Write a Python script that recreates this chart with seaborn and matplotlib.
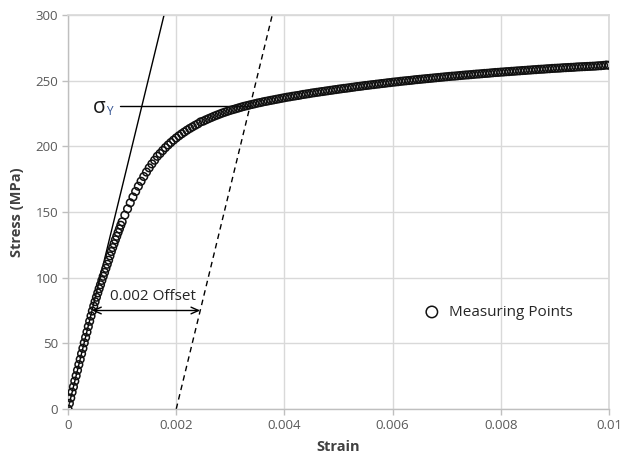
import matplotlib
matplotlib.use("Agg")
import matplotlib.pyplot as plt
import pandas as pd
import seaborn as sns

# Tensile test record: strain in micro-strain, engineering stress in MPa
strain_ue = [
    0, 25, 50, 75, 100, 125, 150, 175, 200, 225,
    250, 275, 300, 325, 350, 375, 400, 425, 450, 475,
    500, 525, 550, 575, 600, 625, 650, 675, 700, 725,
    750, 775, 800, 825, 850, 875, 900, 925, 950, 975,
    1000, 1050, 1100, 1150, 1200, 1250, 1300, 1350, 1400, 1450,
    1500, 1550, 1600, 1650, 1700, 1750, 1800, 1850, 1900, 1950,
    2000, 2050, 2100, 2150, 2200, 2250, 2300, 2350, 2400, 2450,
    2500, 2550, 2600, 2650, 2700, 2750, 2800, 2850, 2900, 2950,
    3000, 3050, 3100, 3150, 3200, 3250, 3300, 3350, 3400, 3450,
    3500, 3550, 3600, 3650, 3700, 3750, 3800, 3850, 3900, 3950,
    4000, 4050, 4100, 4150, 4200, 4250, 4300, 4350, 4400, 4450,
    4500, 4550, 4600, 4650, 4700, 4750, 4800, 4850, 4900, 4950,
    5000, 5050, 5100, 5150, 5200, 5250, 5300, 5350, 5400, 5450,
    5500, 5550, 5600, 5650, 5700, 5750, 5800, 5850, 5900, 5950,
    6000, 6050, 6100, 6150, 6200, 6250, 6300, 6350, 6400, 6450,
    6500, 6550, 6600, 6650, 6700, 6750, 6800, 6850, 6900, 6950,
    7000, 7050, 7100, 7150, 7200, 7250, 7300, 7350, 7400, 7450,
    7500, 7550, 7600, 7650, 7700, 7750, 7800, 7850, 7900, 7950,
    8000, 8050, 8100, 8150, 8200, 8250, 8300, 8350, 8400, 8450,
    8500, 8550, 8600, 8650, 8700, 8750, 8800, 8850, 8900, 8950,
    9000, 9050, 9100, 9150, 9200, 9250, 9300, 9350, 9400, 9450,
    9500, 9550, 9600, 9650, 9700, 9750, 9800, 9850, 9900, 9950,
    10000,
]
stress_mpa = [
    0.0, 4.3, 8.4, 12.8, 16.9, 21.2, 25.3, 29.5, 33.8, 37.8,
    42.1, 46.2, 50.4, 54.5, 58.6, 62.8, 66.8, 70.8, 74.6, 78.3,
    81.7, 85.1, 88.4, 91.6, 94.6, 97.9, 101.0, 104.0, 107.1, 110.2,
    113.3, 116.6, 119.9, 122.9, 125.8, 128.8, 131.5, 134.4, 137.1, 139.9,
    142.5, 147.6, 152.4, 157.0, 161.4, 165.6, 169.6, 173.4, 177.0, 180.4,
    183.6, 186.6, 189.4, 192.4, 194.5, 196.8, 199.0, 201.0, 202.9, 204.7,
    206.4, 208.0, 209.5, 210.9, 212.3, 213.6, 214.8, 216.0, 217.1, 218.6,
    219.2, 220.2, 221.1, 222.0, 222.9, 223.7, 224.5, 225.3, 226.0, 226.7,
    227.4, 228.0, 228.6, 229.2, 229.8, 230.4, 230.9, 231.4, 231.9, 232.4,
    232.9, 233.3, 233.8, 234.2, 234.6, 235.0, 235.4, 235.8, 236.2, 236.6,
    237.0, 237.4, 237.7, 238.1, 238.4, 238.7, 239.1, 239.5, 239.8, 240.1,
    240.5, 240.8, 241.1, 241.4, 241.7, 242.0, 242.3, 242.6, 242.9, 243.2,
    243.5, 243.8, 244.1, 244.3, 244.6, 244.9, 245.2, 245.5, 245.7, 246.0,
    246.3, 246.5, 246.8, 247.0, 247.3, 247.5, 247.8, 248.0, 248.3, 248.5,
    248.8, 249.0, 249.2, 249.5, 249.7, 249.9, 250.1, 250.3, 250.6, 250.8,
    251.0, 251.2, 251.4, 251.6, 251.8, 252.0, 252.2, 252.4, 252.6, 252.8,
    253.0, 253.2, 253.4, 253.5, 253.7, 253.9, 254.1, 254.3, 254.4, 254.6,
    254.8, 255.0, 255.1, 255.3, 255.5, 255.6, 255.8, 256.0, 256.2, 256.3,
    256.5, 256.6, 256.8, 256.9, 257.1, 257.2, 257.4, 257.5, 257.7, 257.8,
    258.0, 258.1, 258.3, 258.4, 258.6, 258.7, 258.8, 259.0, 259.1, 259.3,
    259.4, 259.5, 259.6, 259.8, 259.9, 260.0, 260.1, 260.2, 260.4, 260.5,
    260.6, 260.7, 260.8, 260.9, 261.0, 261.1, 261.3, 261.4, 261.6, 261.9,
    261.7,
]

# Material constants used for the construction lines
E_MPA = 169000.0          # elastic modulus
OFFSET = 0.002            # 0.2 % offset strain
SIGMA_Y = 231.0           # yield stress from the offset method
SIGMA_Y_LINE_START = 0.00096
ARROW_STRESS = 75.0
STRESS_TOP = 300.0

x_ticks = [0, 0.002, 0.004, 0.006, 0.008, 0.01]
x_tick_labels = ["0", "0.002", "0.004", "0.006", "0.008", "0.01"]
y_ticks = [0, 50, 100, 150, 200, 250, 300]

df = pd.DataFrame({"strain": [v / 1e6 for v in strain_ue], "stress": stress_mpa})

sns.set_theme(style="white")
plt.rcParams["font.family"] = ["Open Sans", "DejaVu Sans"]

fig = plt.figure(figsize=(6.27, 4.61), dpi=100)
ax = fig.add_axes([0.1085, 0.1128, 0.8628, 0.8547])

grid_c = "#D9D9D9"
ax.grid(True, color=grid_c, linewidth=1.0)
ax.set_axisbelow(True)
for side in ["top", "right"]:
    ax.spines[side].set_color(grid_c)
for side in ["left", "bottom"]:
    ax.spines[side].set_color("#BFBFBF")
    ax.spines[side].set_linewidth(1.0)

# Elastic line and the 0.002 offset line
elastic = pd.DataFrame({"strain": [0.0, STRESS_TOP / E_MPA], "stress": [0.0, STRESS_TOP]})
offset_line = pd.DataFrame({"strain": [OFFSET, OFFSET + STRESS_TOP / E_MPA],
                            "stress": [0.0, STRESS_TOP]})
sns.lineplot(data=elastic, x="strain", y="stress", color="black", linewidth=1.0,
             sort=False, ax=ax)
sns.lineplot(data=offset_line, x="strain", y="stress", color="black", linewidth=1.0,
             linestyle=(0, (4, 3)), sort=False, ax=ax)

# Yield stress marker line
ax.plot([SIGMA_Y_LINE_START, OFFSET + SIGMA_Y / E_MPA], [SIGMA_Y, SIGMA_Y],
        color="black", linewidth=1.0)

# Measured points
sns.scatterplot(data=df, x="strain", y="stress", marker="o", s=30,
                facecolor="none", edgecolor="#111111", linewidth=1.1,
                label="Measuring Points", ax=ax, zorder=3)

# Offset dimension arrow
ax.annotate("", xy=(OFFSET + ARROW_STRESS / E_MPA, ARROW_STRESS),
            xytext=(ARROW_STRESS / E_MPA, ARROW_STRESS),
            arrowprops=dict(arrowstyle="<->,head_length=0.45,head_width=0.2",
                            color="black", lw=1.0, shrinkA=0, shrinkB=0))
ax.text(0.00157, 86, "0.002 Offset", ha="center", va="center",
        fontsize=11, color="#262626")

# Yield stress label
ax.text(0.00046, 229.5, "σ", ha="left", va="center",
        fontsize=15, color="#1A1A1A")
ax.text(0.00071, 226.5, "Y", ha="left", va="center",
        fontsize=8.5, color="#2F4F8F")

ax.set_xlim(0, 0.01)
ax.set_ylim(0, 300)
ax.set_xticks(x_ticks)
ax.set_xticklabels(x_tick_labels)
ax.set_yticks(y_ticks)
ax.tick_params(axis="both", direction="out", length=4, width=1, color="#BFBFBF",
               labelsize=9.5, labelcolor="#595959", pad=3)
ax.tick_params(axis="both", left=True, bottom=True)

ax.set_xlabel("Strain", fontsize=10.5, fontweight="bold", color="#404040", labelpad=6)
ax.set_ylabel("Stress (MPa)", fontsize=10.5, fontweight="bold", color="#404040", labelpad=8)

leg = ax.legend(loc="center left", bbox_to_anchor=(0.633, 0.245), frameon=False,
                fontsize=11, handletextpad=0.1, markerscale=1.5, borderaxespad=0)
for t in leg.get_texts():
    t.set_color("#262626")

fig.savefig("out.png", dpi=100)
